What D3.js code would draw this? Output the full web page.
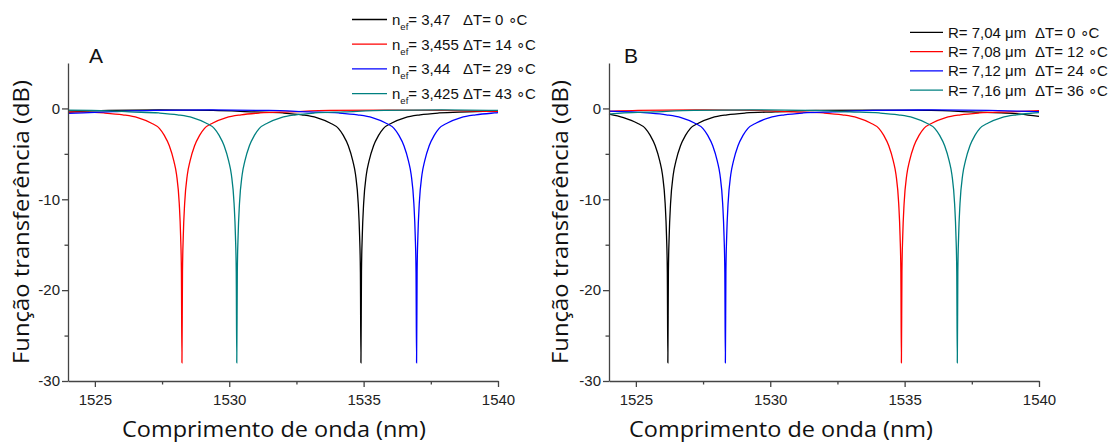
<!DOCTYPE html>
<html><head><meta charset="utf-8">
<script src="https://cdn.jsdelivr.net/npm/d3@7"></script>
<style>
body{margin:0;background:#fff;}
svg{display:block;}
.tick text{font-family:"Liberation Sans",Arial,sans-serif;font-size:15px;fill:#222;}
.axis path,.axis line{stroke:#444;stroke-width:1.3;}
</style>
</head><body>
<svg id="chart" width="1115" height="445"></svg>
<script>
// ---------- data ----------
const xTicks = [1525, 1530, 1535, 1540];
const xMinorTicks = [1527.5, 1532.5, 1537.5];
const yTicks = [-30, -20, -10, 0];
const yMinorTicks = [-25, -15, -5];
const xDomain = [1524, 1540];
const yDomain = [-30, 5];

const seriesColors = ["#000000", "#ff0000", "#0000ff", "#008080"];

// Panel A
const legendA = [
  {n: "3,47", dt: "0"},
  {n: "3,455", dt: "14"},
  {n: "3,44", dt: "29"},
  {n: "3,425", dt: "43"}
];
const wlA_black = [1524.0,1525.5,1527.4,1529.4,1530.9,1532.0,1532.7,1533.25,1533.75,1534.06,1534.25,1534.43,1534.6,1534.7,1534.8,1534.85,1534.88,1534.9,1534.92,1534.95,1535.0,1535.1,1535.2,1535.37,1535.55,1535.74,1536.05,1536.55,1537.1,1537.8,1538.9,1540.0];
const dbA_black = [-0.4,-0.22,-0.16,-0.22,-0.38,-0.5,-0.7,-1.0,-1.6,-2.2,-3.0,-4.1,-5.8,-7.3,-10.5,-14,-18,-28,-18,-14,-10.5,-7.3,-5.8,-4.1,-3.0,-2.2,-1.6,-1.0,-0.7,-0.5,-0.38,-0.28];
const wlA_red = [1524.0,1524.24,1525.34,1526.04,1526.59,1527.09,1527.4,1527.59,1527.77,1527.94,1528.04,1528.14,1528.19,1528.22,1528.24,1528.26,1528.29,1528.34,1528.44,1528.54,1528.71,1528.89,1529.08,1529.39,1529.89,1530.44,1531.14,1532.24,1533.74,1535.9,1538.0,1540.0];
const dbA_red = [-0.42,-0.38,-0.5,-0.7,-1.0,-1.6,-2.2,-3.0,-4.1,-5.8,-7.3,-10.5,-14,-18,-28,-18,-14,-10.5,-7.3,-5.8,-4.1,-3.0,-2.2,-1.6,-1.0,-0.7,-0.5,-0.38,-0.22,-0.18,-0.22,-0.35];
const wlA_blue = [1524.0,1524.57,1525.67,1527.17,1529.3,1531.47,1532.97,1534.07,1534.77,1535.32,1535.82,1536.13,1536.32,1536.5,1536.67,1536.77,1536.87,1536.92,1536.95,1536.97,1536.99,1537.02,1537.07,1537.17,1537.27,1537.44,1537.62,1537.81,1538.12,1538.62,1539.17,1539.87,1540.0];
const dbA_blue = [-0.55,-0.48,-0.36,-0.22,-0.16,-0.22,-0.38,-0.5,-0.7,-1.0,-1.6,-2.2,-3.0,-4.1,-5.8,-7.3,-10.5,-14,-18,-28,-18,-14,-10.5,-7.3,-5.8,-4.1,-3.0,-2.2,-1.6,-1.0,-0.7,-0.5,-0.47];
const wlA_teal = [1524.0,1525.5,1526.28,1527.38,1528.08,1528.63,1529.13,1529.44,1529.63,1529.81,1529.98,1530.08,1530.18,1530.23,1530.26,1530.28,1530.3,1530.33,1530.38,1530.48,1530.58,1530.75,1530.93,1531.12,1531.43,1531.93,1532.48,1533.18,1534.28,1535.78,1537.9,1540.0];
const dbA_teal = [-0.2,-0.26,-0.38,-0.5,-0.7,-1.0,-1.6,-2.2,-3.0,-4.1,-5.8,-7.3,-10.5,-14,-18,-28,-18,-14,-10.5,-7.3,-5.8,-4.1,-3.0,-2.2,-1.6,-1.0,-0.7,-0.5,-0.38,-0.22,-0.16,-0.22];

// Panel B
const legendB = [
  {r: "7,04", dt: "0"},
  {r: "7,08", dt: "12"},
  {r: "7,12", dt: "24"},
  {r: "7,16", dt: "36"}
];
const wlB_black = [1524.0,1524.54,1525.04,1525.35,1525.54,1525.72,1525.89,1525.99,1526.09,1526.14,1526.17,1526.19,1526.21,1526.24,1526.29,1526.39,1526.49,1526.66,1526.84,1527.03,1527.34,1527.84,1528.39,1529.09,1530.19,1531.69,1533.84,1535.99,1537.49,1538.59,1539.3,1540.0];
const dbB_black = [-0.62,-1.0,-1.6,-2.2,-3.0,-4.1,-5.8,-7.3,-10.5,-14,-18,-28,-18,-14,-10.5,-7.3,-5.8,-4.1,-3.0,-2.2,-1.6,-1.0,-0.7,-0.5,-0.38,-0.22,-0.18,-0.22,-0.38,-0.5,-0.62,-0.88];
const wlB_red = [1524.0,1525.08,1527.23,1529.38,1530.88,1531.98,1532.68,1533.23,1533.73,1534.04,1534.23,1534.41,1534.58,1534.68,1534.78,1534.83,1534.86,1534.88,1534.9,1534.93,1534.98,1535.08,1535.18,1535.35,1535.53,1535.72,1536.03,1536.53,1537.08,1537.78,1538.88,1540.0];
const dbB_red = [-0.32,-0.22,-0.16,-0.22,-0.38,-0.5,-0.7,-1.0,-1.6,-2.2,-3.0,-4.1,-5.8,-7.3,-10.5,-14,-18,-28,-18,-14,-10.5,-7.3,-5.8,-4.1,-3.0,-2.2,-1.6,-1.0,-0.7,-0.5,-0.38,-0.25];
const wlB_blue = [1524.0,1525.43,1526.13,1526.68,1527.18,1527.49,1527.68,1527.86,1528.03,1528.13,1528.23,1528.28,1528.31,1528.33,1528.35,1528.38,1528.43,1528.53,1528.63,1528.8,1528.98,1529.17,1529.48,1529.98,1530.53,1531.23,1532.33,1533.83,1535.98,1538.13,1539.63,1540.0];
const dbB_blue = [-0.3,-0.5,-0.7,-1.0,-1.6,-2.2,-3.0,-4.1,-5.8,-7.3,-10.5,-14,-18,-28,-18,-14,-10.5,-7.3,-5.8,-4.1,-3.0,-2.2,-1.6,-1.0,-0.7,-0.5,-0.38,-0.22,-0.17,-0.22,-0.33,-0.36];
const wlB_teal = [1524.0,1524.56,1525.66,1527.16,1529.31,1531.46,1532.96,1534.06,1534.76,1535.31,1535.81,1536.12,1536.31,1536.49,1536.66,1536.76,1536.86,1536.91,1536.94,1536.96,1536.98,1537.01,1537.06,1537.16,1537.26,1537.43,1537.61,1537.8,1538.11,1538.61,1539.16,1539.86,1540.0];
const dbB_teal = [-0.62,-0.5,-0.38,-0.22,-0.16,-0.22,-0.38,-0.5,-0.7,-1.0,-1.6,-2.2,-3.0,-4.1,-5.8,-7.3,-10.5,-14,-18,-28,-18,-14,-10.5,-7.3,-5.8,-4.1,-3.0,-2.2,-1.6,-1.0,-0.7,-0.5,-0.46];

// ---------- drawing ----------
const svg = d3.select("#chart");
const zip = (w, d) => w.map((v, i) => [v, d[i]]);

const panels = [
  {
    letter: "A", letterX: 89, x0: 68, x1: 498, xLabelX: 274, yLabelX: 29,
    series: [zip(wlA_black, dbA_black), zip(wlA_red, dbA_red), zip(wlA_blue, dbA_blue), zip(wlA_teal, dbA_teal)],
    legend: {lineX0: 352, lineX1: 387, textX: 392, dtX: 463, y0: 19.5, dy: 24.7,
      items: legendA, kind: "n"}
  },
  {
    letter: "B", letterX: 624, x0: 609, x1: 1039, xLabelX: 781, yLabelX: 568,
    series: [zip(wlB_black, dbB_black), zip(wlB_red, dbB_red), zip(wlB_blue, dbB_blue), zip(wlB_teal, dbB_teal)],
    legend: {lineX0: 910, lineX1: 943, textX: 948, dtX: 1035, y0: 32.3, dy: 19.3,
      items: legendB, kind: "r"}
  }
];

const yTop = 63, yBot = 381;
const legendFont = "'Liberation Sans', Arial, sans-serif";

panels.forEach(p => {
  const x = d3.scaleLinear().domain(xDomain).range([p.x0, p.x1]);
  const y = d3.scaleLinear().domain(yDomain).range([yBot, yTop]);
  const g = svg.append("g");

  // data lines
  const line = d3.line().x(d => x(d[0])).y(d => y(d[1])).curve(d3.curveMonotoneX);
  p.series.forEach((s, i) => {
    g.append("path").datum(s).attr("d", line)
      .attr("fill", "none").attr("stroke", seriesColors[i]).attr("stroke-width", 1.3);
  });

  // axes
  g.append("g").attr("class", "axis").attr("transform", `translate(0,${yBot})`)
    .call(d3.axisBottom(x).tickValues(xTicks).tickSize(6).tickSizeOuter(0).tickPadding(7).tickFormat(d3.format("d")));
  g.append("g").attr("class", "axis").attr("transform", `translate(0,${yBot})`)
    .call(d3.axisBottom(x).tickValues(xMinorTicks).tickSize(3.5).tickSizeOuter(0).tickFormat(""))
    .select(".domain").remove();
  g.append("g").attr("class", "axis").attr("transform", `translate(${p.x0},0)`)
    .call(d3.axisLeft(y).tickValues(yTicks).tickSize(6).tickSizeOuter(0).tickPadding(2).tickFormat(d => String(d)));
  g.append("g").attr("class", "axis").attr("transform", `translate(${p.x0},0)`)
    .call(d3.axisLeft(y).tickValues(yMinorTicks).tickSize(3.5).tickSizeOuter(0).tickFormat(""))
    .select(".domain").remove();

  // axis titles
  g.append("text").attr("x", p.xLabelX).attr("y", 437).attr("text-anchor", "middle")
    .attr("textLength", 304).attr("lengthAdjust", "spacingAndGlyphs")
    .style("font-family", "'Open Sans', sans-serif").style("font-size", "22px").attr("fill", "#111")
    .text("Comprimento de onda (nm)");
  g.append("text").attr("transform", `translate(${p.yLabelX},222) rotate(-90)`)
    .attr("text-anchor", "middle")
    .attr("textLength", 284).attr("lengthAdjust", "spacingAndGlyphs")
    .style("font-family", "'Open Sans', sans-serif").style("font-size", "22px").attr("fill", "#111")
    .text("Função transferência (dB)");

  // panel letter
  g.append("text").attr("x", p.letterX).attr("y", 63)
    .style("font-family", legendFont).style("font-size", "21px").attr("fill", "#111")
    .text(p.letter);

  // legend
  const L = p.legend;
  L.items.forEach((it, i) => {
    const yy = L.y0 + i * L.dy;
    g.append("line").attr("x1", L.lineX0).attr("x2", L.lineX1).attr("y1", yy).attr("y2", yy)
      .attr("stroke", seriesColors[i]).attr("stroke-width", 1.3);
    const t = g.append("text").attr("x", L.textX).attr("y", yy + 5.5)
      .style("font-family", legendFont).style("font-size", "15px").attr("fill", "#111");
    if (L.kind === "n") {
      t.append("tspan").text("n");
      t.append("tspan").attr("dy", 5).style("font-size", "9.5px").text("ef");
      t.append("tspan").attr("dy", -5).text("= " + it.n);
    } else {
      t.append("tspan").text("R= " + it.r + " \u03bcm");
    }
    g.append("text").attr("x", L.dtX).attr("y", yy + 5.5)
      .style("font-family", legendFont).style("font-size", "15px").attr("fill", "#111")
      .text("\u0394T= " + it.dt + " \u2218C");
  });
});
</script>
</body></html>
